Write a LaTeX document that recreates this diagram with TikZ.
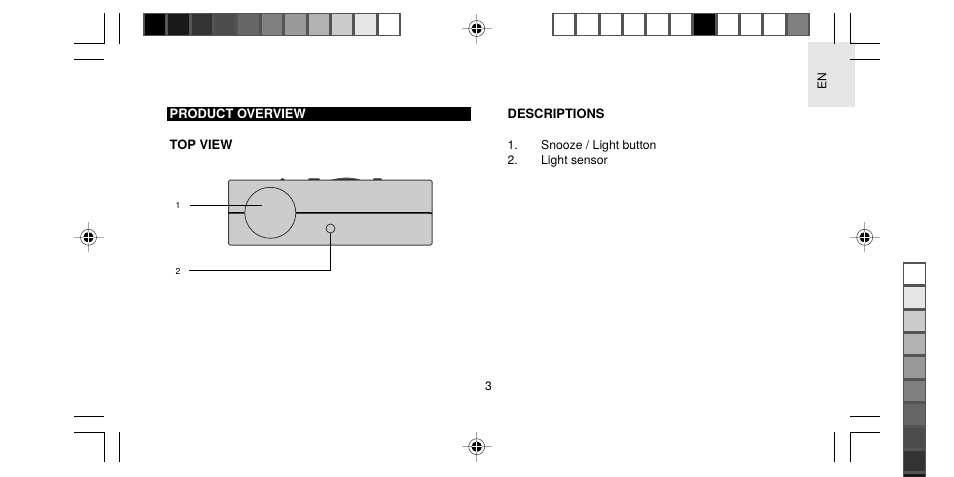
\documentclass[tikz,border=0pt]{standalone}
\usepackage{fontspec}
\setmainfont{TeX Gyre Heros}
\definecolor{stripedge}{gray}{0.33}
\definecolor{tabgrey}{gray}{0.9}
\tikzset{
  crop/.style={line width=0.9pt,black},
  swatch/.style={draw=stripedge,line width=1.5pt,minimum width=22pt,minimum height=22pt,inner sep=0pt,anchor=center},
  lead/.style={line width=0.9pt,black},
  body/.style={font=\fontsize{12.2pt}{14pt}\selectfont,anchor=base west,inner sep=0pt,text=black},
  head/.style={font=\fontsize{12.9pt}{14pt}\selectfont\bfseries,anchor=base west,inner sep=0pt},
  tiny/.style={font=\fontsize{8.6pt}{10pt}\selectfont,inner sep=0pt}
}
\newcommand{\regmark}[2]{%
  \begin{scope}[shift={(#1,#2)}]
    \draw[gray!70,line width=0.8pt] (-15,0) -- (15,0) (0,-15) -- (0,15);
    \draw[black!80,line width=0.5pt] (0,0) circle (8);
    \fill[black] (0,0) circle (5.2);
    \draw[white,line width=0.8pt] (-5.2,0) -- (5.2,0) (0,-5.2) -- (0,5.2);
  \end{scope}}
\begin{document}
\begin{tikzpicture}[x=1pt,y=-1pt]
\useasboundingbox (0,0) rectangle (954,477);
\fill[white] (0,0) rectangle (954,477);
% EN tab
\fill[tabgrey] (808,42) rectangle (855,107);
\node[font=\fontsize{12pt}{14pt}\selectfont,rotate=90,inner sep=0pt] (en) at (822,81.5) {EN};
% crop marks
\draw[crop] (74,43.7) -- (104.3,43.7) -- (104.3,13);
\draw[crop] (119.3,13) -- (119.3,43.7);
\draw[crop] (74,59.3) -- (104,59.3);
\draw[crop] (834.3,13) -- (834.3,43.7);
\draw[crop] (850,13) -- (850,43.7) -- (880,43.7);
\draw[crop] (850,59.3) -- (880,59.3);
\draw[crop] (74,416) -- (104,416);
\draw[crop] (74,432.3) -- (104.3,432.3) -- (104.3,462);
\draw[crop] (119.3,432.3) -- (119.3,462);
\draw[crop] (850,416.3) -- (880,416.3);
\draw[crop] (880,432.3) -- (850,432.3) -- (850,462);
\draw[crop] (834.3,432.3) -- (834.3,462);
% registration
\regmark{476.7}{28.5}
\regmark{88.5}{237.3}
\regmark{864.7}{237.3}
\regmark{476.7}{446.7}
% strips
\foreach \i/\g in {0/0,1/0.1,2/0.2,3/0.3,4/0.4,5/0.5,6/0.6,7/0.7,8/0.8,9/0.9,10/1}{
  \definecolor{sw}{gray}{\g}
  \node[swatch,fill=sw] (a\i) at ({155+23.4*\i},24.6) {};
}
\foreach \i/\g in {0/1,1/1,2/1,3/1,4/1,5/1,6/0,7/1,8/1,9/1,10/0.5}{
  \definecolor{sw}{gray}{\g}
  \node[swatch,fill=sw] (b\i) at ({564+23.4*\i},24.6) {};
}
\begin{scope}
\clip (0,0) rectangle (954,477);
\foreach \i/\g in {0/1,1/0.9,2/0.8,3/0.7,4/0.6,5/0.5,6/0.4,7/0.3,8/0.2,9/0.1}{
  \definecolor{sw}{gray}{\g}
  \node[swatch,fill=sw] (c\i) at (914.5,{274+23.4*\i}) {};
}
\end{scope}
% left column
\fill[black] (167,107) rectangle (471,121);
\node[head,text=white] (t1) at (169.5,118.2) {PRODUCT OVERVIEW};
\node[head] (t2) at (169.5,149) {TOP VIEW};
% device
\fill[black!30] (333,180) .. controls (340,178.5) and (342,177) .. (346,177) .. controls (350,177) and (353,178.5) .. (360,180) -- cycle;
\fill[black!85] (280,180) -- (282.5,178) -- (285,180) -- cycle;
\fill[black!85] (308,180) -- (309,178.3) -- (319,178.3) -- (320,180) -- cycle;
\fill[black!85] (330,180) -- (338,178.4) -- (355,178.4) -- (361,180) -- cycle;
\fill[black!85] (373,180) -- (374,178.3) -- (381,178.3) -- (382,180) -- cycle;
\draw[fill=black!20,draw=black!75,line width=1pt,rounded corners=1.5pt] (228.5,180) rectangle (432,245);
\coordinate (barL) at (228.5,213);
\coordinate (barR) at (432,213);
\node[circle,draw=black!85,line width=0.7pt,fill=black!20,minimum size=51pt,inner sep=0pt] (btn) at (270.3,212.8) {};
\node[circle,draw=black!85,line width=0.7pt,fill=black!20,minimum size=9pt,inner sep=0pt] (sensor) at (330.5,228.5) {};
\draw[black,line width=1.5pt] (barL) -- (btn.west);
\draw[black,line width=1.5pt] (btn.east) -- (barR);
\node[tiny] (n1) at (178,205) {1};
\node[tiny] (n2) at (178,271) {2};
\coordinate (l1e) at (261.5,205);
\coordinate (l1s) at (190,205);
\coordinate (l2s) at (189,270);
\draw[lead] (l1s) -- (l1e);
\draw[lead] (l2s) -| (sensor.south);
% right column
\node[head] (d0) at (507.5,118.5) {DESCRIPTIONS};
\node[body] (d1) at (507.5,149) {1.};
\node[body] (d1t) at (541,149) {Snooze / Light button};
\node[body] (d2) at (507.5,164) {2.};
\node[body] (d2t) at (541,164) {Light sensor};
\node[body] (pg) at (485,390) {3};
\end{tikzpicture}
\end{document}
